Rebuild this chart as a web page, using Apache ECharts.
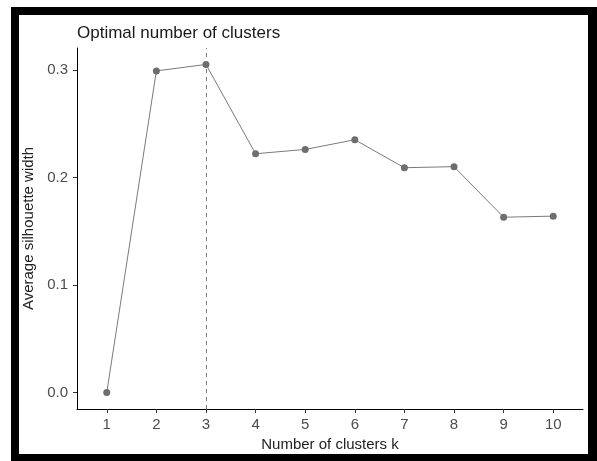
<!DOCTYPE html>
<html>
<head>
<meta charset="utf-8">
<script src="https://cdn.jsdelivr.net/npm/echarts@6/dist/echarts.min.js"></script>
<style>
  html, body { margin: 0; padding: 0; background: #fff; }
  #wrap { position: relative; width: 597px; height: 461px; overflow: hidden; }
  #chart { position: absolute; left: 0; top: 0; width: 597px; height: 461px; }
  #frame {
    position: absolute; left: 11px; top: 7px; width: 569px; height: 439px;
    border-style: solid; border-color: #000;
    border-width: 8px 9px 7px 8px; pointer-events: none;
  }
</style>
</head>
<body>
<div id="wrap">
  <div id="chart"></div>
  <div id="frame"></div>
</div>
<script>
// Silhouette analysis: average silhouette width for each number of clusters k
const kValues = [1, 2, 3, 4, 5, 6, 7, 8, 9, 10];
const silhouette = [0.000, 0.299, 0.305, 0.222, 0.226, 0.235, 0.209, 0.210, 0.163, 0.164];
const yTicks = [0.0, 0.1, 0.2, 0.3];
const optimalK = 3;

const chart = echarts.init(document.getElementById('chart'), null, { renderer: 'canvas' });

const font = 'Liberation Sans, Arial, sans-serif';

chart.setOption({
  animation: false,
  backgroundColor: 'transparent',
  title: {
    text: 'Optimal number of clusters',
    left: 72,
    top: 20,
    textStyle: { fontFamily: font, fontSize: 17, fontWeight: 'normal', color: '#1a1a1a' }
  },
  grid: { left: 77, right: 14, top: 48, bottom: 52 },
  xAxis: {
    type: 'value',
    min: 0.4,
    max: 10.6,
    name: 'Number of clusters k',
    nameLocation: 'middle',
    nameGap: 27,
    nameTextStyle: { fontFamily: font, fontSize: 15, color: '#222' },
    axisLine: { show: true, onZero: false, lineStyle: { color: '#000', width: 1 } },
    axisTick: { show: true, length: 4, customValues: kValues, lineStyle: { color: '#333' } },
    axisLabel: {
      customValues: kValues, margin: 8,
      fontFamily: font, fontSize: 15, color: '#4d4d4d'
    },
    splitLine: { show: false }
  },
  yAxis: {
    type: 'value',
    min: -0.0153,
    max: 0.3203,
    name: 'Average silhouette width',
    nameLocation: 'middle',
    nameGap: 37,
    nameRotate: 90,
    nameTextStyle: { fontFamily: font, fontSize: 15, color: '#222' },
    axisLine: { show: true, onZero: false, lineStyle: { color: '#000', width: 1 } },
    axisTick: { show: true, length: 4, customValues: yTicks, lineStyle: { color: '#333' } },
    axisLabel: {
      customValues: yTicks, margin: 9,
      fontFamily: font, fontSize: 15, color: '#4d4d4d',
      formatter: v => Number(v).toFixed(1)
    },
    splitLine: { show: false }
  },
  series: [{
    type: 'line',
    data: kValues.map((k, i) => [k, silhouette[i]]),
    symbol: 'circle',
    symbolSize: 7,
    itemStyle: { color: '#6e6e6e' },
    lineStyle: { color: '#7a7a7a', width: 1 },
    markLine: {
      silent: true,
      symbol: 'none',
      label: { show: false },
      lineStyle: { color: '#777', width: 1, type: [4, 4] },
      data: [{ xAxis: optimalK }]
    }
  }]
});
</script>
</body>
</html>
